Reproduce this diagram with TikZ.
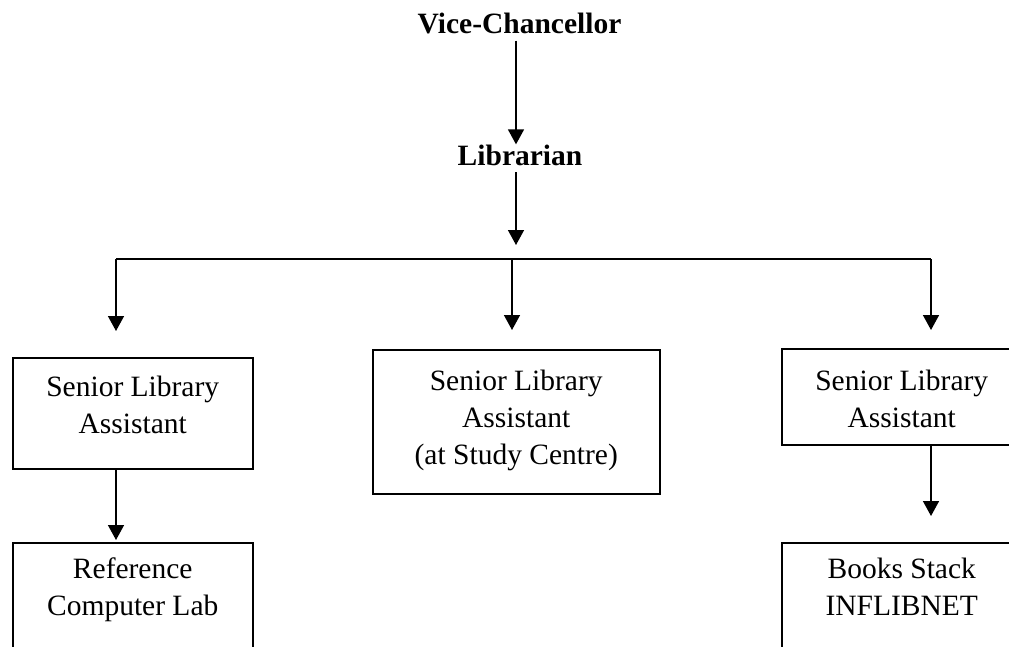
\documentclass[tikz,border=0pt]{standalone}
\usepackage{fontspec}
\setmainfont{Liberation Serif}
\usetikzlibrary{arrows.meta}
\begin{document}
\begin{tikzpicture}[x=1pt,y=-1pt,
  lbl/.style={inner sep=0pt, font=\fontsize{29.5pt}{37pt}\selectfont\bfseries},
  box/.style={draw, line width=1.5pt, inner sep=0pt, anchor=north west, font=\fontsize{29.5pt}{37pt}\selectfont},
  arr/.style={line width=1.5pt, -{Triangle[width=16pt,length=15pt]}},
  bar/.style={line width=1.5pt}]
\useasboundingbox (0,0) rectangle (1009,646);
\clip (0,0) rectangle (1009,646);
\node[lbl, anchor=base] (vc) at (519.5,33) {Vice-Chancellor};
\node[lbl, anchor=base] (lib) at (520,165) {Librarian};
\coordinate (barL) at (116,259);
\coordinate (barC) at (512,259);
\coordinate (barR) at (931,259);
\coordinate (libx) at (516,259);
\node[box] (sla1) at (12,357) {\parbox[c][111pt][t]{240pt}{\centering\rule{0pt}{39pt}Senior Library\\Assistant}};
\node[box] (sla2) at (372,349) {\parbox[c][144pt][t]{287pt}{\centering\rule{0pt}{41pt}Senior Library\\Assistant\\(at Study Centre)}};
\node[box] (sla3) at (781,348) {\parbox[c][96pt][t]{240pt}{\centering\rule{0pt}{42pt}Senior Library\\Assistant}};
\node[box] (ref) at (12,542) {\parbox[c][160pt][t]{240pt}{\centering\rule{0pt}{36pt}Reference\\Computer Lab}};
\node[box] (books) at (781,542) {\parbox[c][160pt][t]{240pt}{\centering\rule{0pt}{36pt}Books Stack\\INFLIBNET}};
\draw[arr, shorten <=7pt] (vc.south -| libx) -- (lib.north -| libx);
\draw[arr, shorten <=7pt, shorten >=14pt] (lib.south -| libx) -- (libx);
\draw[bar] (barL) -- (barR);
\draw[arr, shorten >=26pt] (barL) -- (barL |- sla1.north);
\draw[arr, shorten >=19pt] (barC) -- (barC |- sla2.north);
\draw[arr, shorten >=18pt] (barR) -- (barR |- sla3.north);
\draw[arr, shorten >=2pt] (sla1.south -| barL) -- (ref.north -| barL);
\draw[arr, shorten >=26pt] (sla3.south -| barR) -- (books.north -| barR);
\end{tikzpicture}
\end{document}
